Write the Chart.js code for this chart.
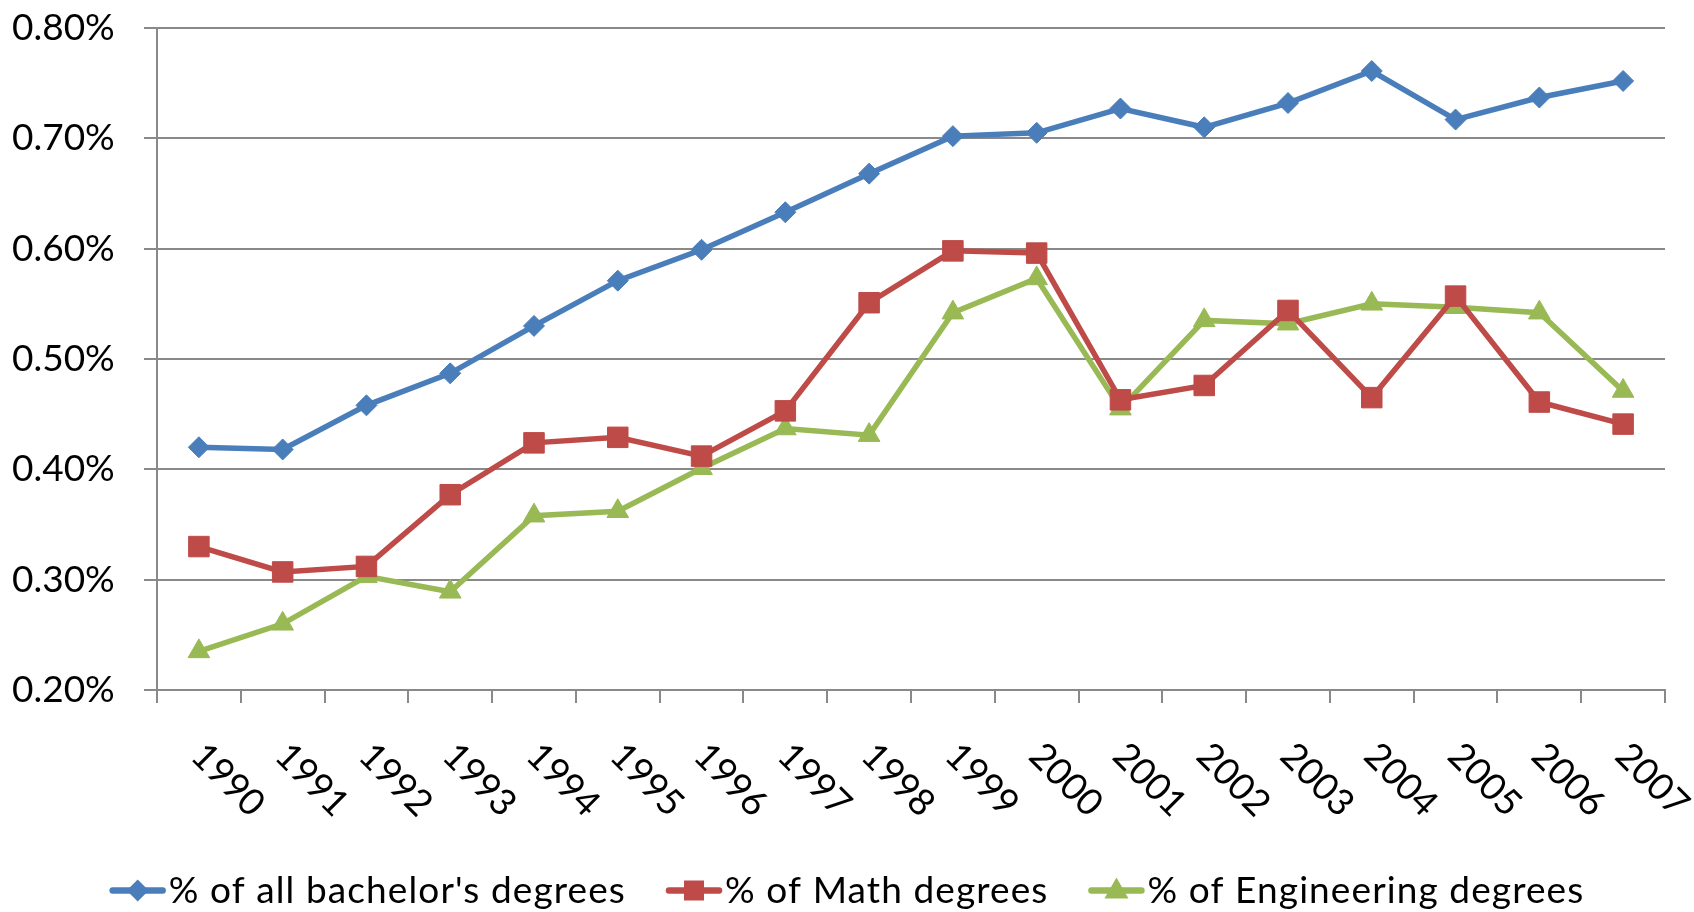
<!DOCTYPE html>
<html>
<head>
<meta charset="utf-8">
<script src="https://cdn.jsdelivr.net/npm/chart.js"></script>
<style>
    body { margin: 0; background: #fff; }
    canvas { display: block; }
</style>
</head>
<body>
<canvas id="degreesChart" width="1694" height="912" style="width:1694px;height:912px"></canvas>
<script>
const years = ['1990', '1991', '1992', '1993', '1994', '1995', '1996', '1997', '1998',
    '1999', '2000', '2001', '2002', '2003', '2004', '2005', '2006', '2007'];

// values are in percent (0.42 means 0.42%)
const bachelors = [0.420, 0.418, 0.458, 0.487, 0.530, 0.571, 0.599, 0.633, 0.668,
    0.702, 0.705, 0.727, 0.710, 0.732, 0.761, 0.717, 0.737, 0.752];
const math = [0.330, 0.307, 0.312, 0.377, 0.424, 0.429, 0.412, 0.453, 0.551,
    0.598, 0.596, 0.463, 0.476, 0.544, 0.465, 0.557, 0.461, 0.441];
const engineering = [0.235, 0.260, 0.303, 0.289, 0.358, 0.362, 0.401, 0.437, 0.431,
    0.542, 0.573, 0.455, 0.535, 0.532, 0.550, 0.547, 0.542, 0.471];

const seriesNames = ['% of all bachelor\'s degrees', '% of Math degrees', '% of Engineering degrees'];
const yTicks = [0.20, 0.30, 0.40, 0.50, 0.60, 0.70, 0.80];

const blue = '#4A7EBB';
const red = '#BE4B48';
const green = '#98B954';
const gridGray = '#898989';
const font = 'Lato, "Open Sans", sans-serif';

function makeSet(label, data, color, style, radius) {
    return {
        label: label,
        data: data,
        borderColor: color,
        backgroundColor: color,
        borderWidth: 5.5,
        tension: 0,
        pointStyle: style,
        pointRadius: radius,
        pointHoverRadius: radius,
        pointBackgroundColor: color,
        pointBorderColor: color,
        pointBorderWidth: 1,
        clip: false
    };
}

function drawMarker(ctx, style, x, y, color) {
    ctx.fillStyle = color;
    ctx.beginPath();
    if (style === 'rectRot') {
        ctx.moveTo(x - 11, y);
        ctx.lineTo(x, y - 11);
        ctx.lineTo(x + 11, y);
        ctx.lineTo(x, y + 11);
    } else if (style === 'rect') {
        ctx.rect(x - 10, y - 10, 20, 20);
    } else {
        ctx.moveTo(x, y - 13);
        ctx.lineTo(x + 12, y + 8);
        ctx.lineTo(x - 12, y + 8);
    }
    ctx.closePath();
    ctx.fill();
}

// rotated year labels and the line+marker legend
const extras = {
    id: 'extras',
    afterDraw(chart) {
        const ctx = chart.ctx;
        const xScale = chart.scales.x;
        const axisY = chart.chartArea.bottom;

        ctx.save();
        ctx.fillStyle = '#000';
        ctx.font = '37px ' + font;
        ctx.textAlign = 'center';
        ctx.textBaseline = 'middle';
        years.forEach((yr, i) => {
            const cx = xScale.getPixelForValue(i);
            ctx.save();
            ctx.translate(cx + 29, axisY + 90);
            ctx.rotate(Math.PI / 4);
            ctx.fillText(yr, 0, 0);
            ctx.restore();
        });
        ctx.restore();

        // legend
        ctx.save();
        ctx.font = '37px ' + font;
        ctx.letterSpacing = '1.1px';
        ctx.textAlign = 'left';
        ctx.textBaseline = 'alphabetic';
        const lineLen = 56;
        const textGap = 3;
        const itemGap = 40;
        const widths = chart.data.datasets.map(ds => ctx.measureText(ds.label).width);
        let total = 0;
        widths.forEach(w => { total += lineLen + textGap + w; });
        total += itemGap * (widths.length - 1);
        let x = (chart.width - total) / 2;
        const ly = 890.5;
        chart.data.datasets.forEach((ds, i) => {
            ctx.strokeStyle = ds.borderColor;
            ctx.lineWidth = 6.5;
            ctx.lineCap = 'round';
            ctx.beginPath();
            ctx.moveTo(x + 3, ly);
            ctx.lineTo(x + lineLen - 3, ly);
            ctx.stroke();
            drawMarker(ctx, ds.pointStyle, x + lineLen / 2, ly, ds.borderColor);
            ctx.fillStyle = '#000';
            ctx.fillText(ds.label, x + lineLen + textGap, 902.5);
            x += lineLen + textGap + widths[i] + itemGap;
        });
        ctx.restore();
    }
};

const ctx = document.getElementById('degreesChart').getContext('2d');
new Chart(ctx, {
    type: 'line',
    data: {
        labels: years,
        datasets: [
            makeSet(seriesNames[0], bachelors, blue, 'rectRot', 10.5),
            makeSet(seriesNames[1], math, red, 'rect', 14.5),
            makeSet(seriesNames[2], engineering, green, 'triangle', 12.5)
        ]
    },
    options: {
        responsive: false,
        animation: false,
        devicePixelRatio: 1,
        layout: {
            padding: { top: 28, right: 29, bottom: 0, left: 12 }
        },
        plugins: {
            legend: { display: false },
            tooltip: { enabled: false }
        },
        scales: {
            x: {
                offset: true,
                grid: {
                    offset: true,
                    drawOnChartArea: false,
                    drawTicks: true,
                    tickLength: 13,
                    color: gridGray,
                    lineWidth: 2
                },
                border: { color: gridGray, width: 2 },
                ticks: { display: false },
                afterFit(scale) {
                    scale.height = 222;
                }
            },
            y: {
                min: yTicks[0],
                max: yTicks[yTicks.length - 1],
                afterBuildTicks(scale) {
                    scale.ticks = yTicks.map(v => ({ value: v }));
                },
                grid: {
                    color: gridGray,
                    lineWidth: 2,
                    tickLength: 13
                },
                border: { color: gridGray, width: 2 },
                ticks: {
                    padding: 0,
                    crossAlign: 'far',
                    color: '#000',
                    font: { family: font, size: 37 },
                    callback: v => v.toFixed(2) + '%'
                },
                afterFit(scale) {
                    scale.width = 145;
                }
            }
        }
    },
    plugins: [extras]
});
</script>
</body>
</html>
